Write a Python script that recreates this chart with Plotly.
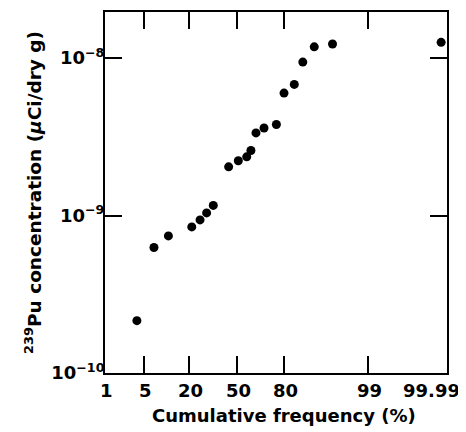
import plotly.graph_objects as go
from statistics import NormalDist

# Data
cum_freq_pct = [3.9, 7.2, 11.4, 21.4, 25.9, 29.8, 34.0, 44.4, 51.2, 57.1,
                60.0, 63.4, 68.6, 75.9, 79.9, 84.6, 87.9, 91.5, 95.5, 99.985]
pu_conc = [2.15e-10, 6.27e-10, 7.43e-10, 8.47e-10, 9.38e-10, 1.04e-9, 1.16e-9,
           2.04e-9, 2.23e-9, 2.36e-9, 2.59e-9, 3.35e-9, 3.60e-9, 3.79e-9,
           6.0e-9, 6.81e-9, 9.44e-9, 1.18e-8, 1.23e-8, 1.26e-8]

x_tick_pct = [1, 5, 20, 50, 80, 99, 99.99]
x_tick_text = ["1", "5", "20", "50", "80", "99", "99.99"]
y_tick_vals = [1e-10, 1e-9, 1e-8]
y_tick_text = ["10<sup>\u221210</sup>", "10<sup>\u22129</sup>", "10<sup>\u22128</sup>"]
x_title = "Cumulative frequency (%)"
y_title = "<sup>239</sup>Pu concentration (<i>\u03bc</i>Ci/dry g)"

nd = NormalDist()
def probit(p):
    return nd.inv_cdf(p / 100.0)

xz = [probit(p) for p in cum_freq_pct]
xtick_z = [probit(p) for p in x_tick_pct]

fig = go.Figure()
fig.add_trace(go.Scatter(
    x=xz, y=pu_conc, mode="markers",
    marker=dict(color="black", size=9),
    cliponaxis=False, showlegend=False,
))

font_family = "DejaVu Sans, Liberation Sans, Arial, sans-serif"

# x tick labels as text placed at the probability-scale tick positions
for i, (zv, lab) in enumerate(zip(xtick_z, x_tick_text)):
    fig.add_annotation(
        x=zv, xref="x", y=-0.049, yref="paper",
        text=lab, showarrow=False, xanchor="center", yanchor="middle",
        xshift=(-16 if i == len(xtick_z) - 1 else 1.5),
        font=dict(family=font_family, size=18, weight="bold", color="black"),
    )

# x axis title
fig.add_annotation(
    x=0.5, xref="paper", y=-0.118, yref="paper",
    text=x_title, showarrow=False, xanchor="center", yanchor="middle",
    xshift=8,
    font=dict(family=font_family, size=18, weight="bold", color="black"),
)

fig.update_layout(
    width=466, height=432,
    margin=dict(l=97, r=27, t=4, b=67),
    plot_bgcolor="white", paper_bgcolor="white",
    font=dict(family=font_family, color="black"),
    xaxis=dict(
        range=[probit(1), probit(99.99)],
        tickmode="array", tickvals=xtick_z,
        showticklabels=False, automargin=False,
        ticks="inside", ticklen=17, tickwidth=2, tickcolor="black",
        showline=True, linewidth=2, linecolor="black", mirror="allticks",
        showgrid=False, zeroline=False,
    ),
    yaxis=dict(
        type="log", range=[-10, -7.707],
        tickmode="array", tickvals=y_tick_vals, ticktext=y_tick_text,
        automargin=False, ticklabelstandoff=-5,
        ticks="inside", ticklen=17, tickwidth=2, tickcolor="black",
        showline=True, linewidth=2, linecolor="black", mirror="allticks",
        showgrid=False, zeroline=False,
        tickfont=dict(size=18, weight="bold"),
        title=dict(text=y_title, font=dict(size=18.5, weight="bold"), standoff=5),
    ),
)

fig.write_html("out.html")
